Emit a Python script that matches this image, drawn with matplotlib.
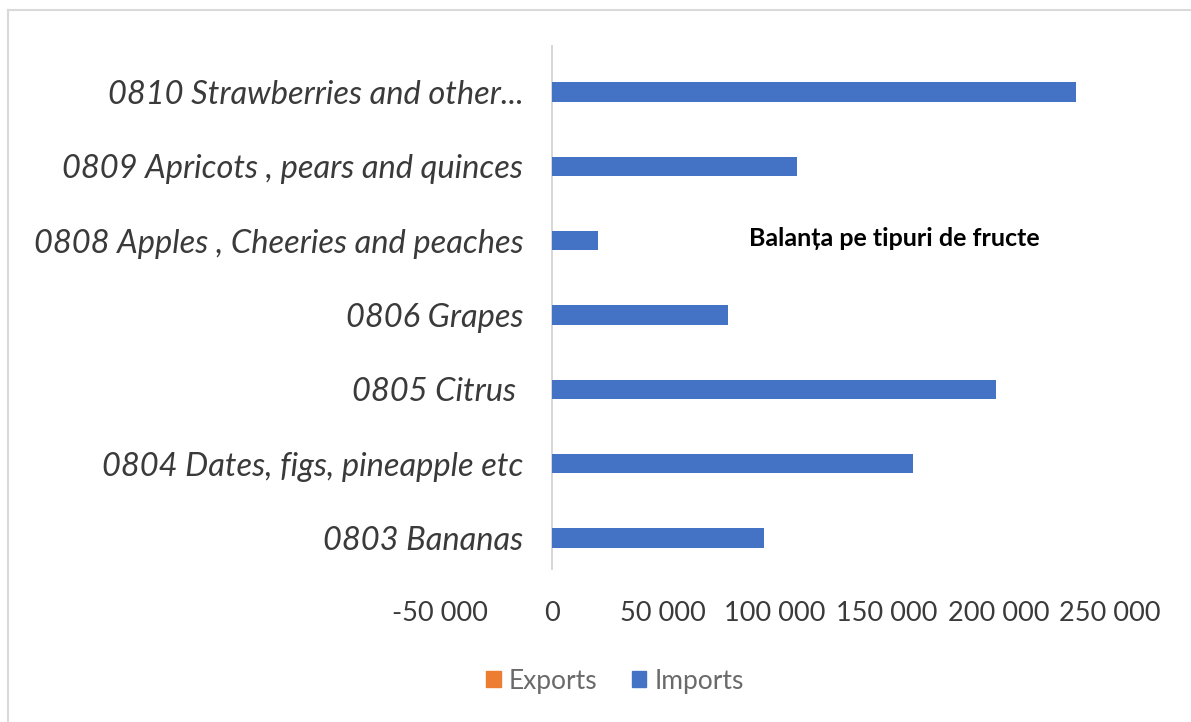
import matplotlib.pyplot as plt
from matplotlib.lines import Line2D
from matplotlib.patches import Patch
from matplotlib.ticker import FuncFormatter

plt.rcParams['font.family'] = ['Lato', 'DejaVu Sans']

categories = ['0803 Bananas', '0804 Dates, figs, pineapple etc', '0805 Citrus ',
              '0806 Grapes', '0808 Apples , Cheeries and peaches',
              '0809 Apricots , pears and quinces', '0810 Strawberries and other...']
imports = [95300, 162000, 198800, 78800, 20600, 109700, 234600]
exports = [0, 0, 0, 0, 0, 0, 0]
x_ticks = [-50000, 0, 50000, 100000, 150000, 200000, 250000]

fig = plt.figure(figsize=(11.91, 7.22), dpi=100)
ax = fig.add_axes([0.3694, 0.2105, 0.5626, 0.7272])

pos = list(range(len(categories)))
ax.barh(pos, imports, height=0.26, color='#4472C4', zorder=3)
ax.barh([p + 0.28 for p in pos], exports, height=0.26, color='#ED7D31', zorder=3)
ax.axvline(0, color='#d0d0d0', lw=1.2, zorder=2)

ax.set_xlim(-50000, 250000)
ax.set_ylim(-0.43, 6.63)
ax.set_xticks(x_ticks)
ax.xaxis.set_major_formatter(FuncFormatter(lambda v, p: f'{int(v):,}'.replace(',', ' ')))
ax.set_yticks(pos)
ax.set_yticklabels(categories, fontstyle='italic')
ax.tick_params(axis='y', length=0, labelsize=23.5, labelcolor='#3a3a3a', pad=-60)
ax.tick_params(axis='x', length=0, labelsize=19.5, labelcolor='#3a3a3a', pad=22)
for s in ax.spines.values():
    s.set_visible(False)

fig.text(894 / 1191, 1 - 238 / 722, 'Balanța pe tipuri de fructe', fontsize=18,
         fontweight='bold', ha='center', va='center')

handles = [Patch(color='#ED7D31', label='Exports'), Patch(color='#4472C4', label='Imports')]
fig.legend(handles=handles, loc='center', bbox_to_anchor=(615 / 1191, 1 - 681 / 722),
           ncol=2, frameon=False, fontsize=19, labelcolor='#6a6a6a', handlelength=0.55,
           handleheight=0.55, handletextpad=0.3, columnspacing=1.3)

# outer chart border
fig.add_artist(Line2D([8 / 1191, 8 / 1191], [0, 1 - 10 / 722], color='#d9d9d9', lw=1.5))
fig.add_artist(Line2D([8 / 1191, 1], [1 - 10 / 722, 1 - 10 / 722], color='#d9d9d9', lw=1.5))

fig.savefig('out.png', dpi=100)
